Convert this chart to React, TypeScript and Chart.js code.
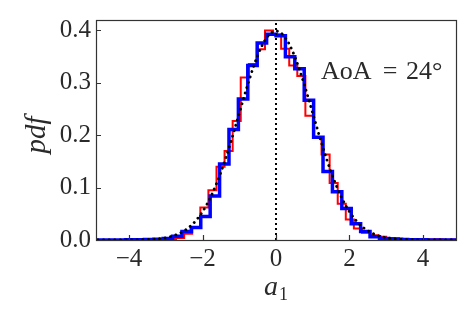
import { useEffect, useRef } from "react";
import { Chart, registerables } from "chart.js";

Chart.register(...registerables);

// ---- data ----
const blueStart = -5.12;
const blueWidth = 0.256;
const blueHeights = [
  0, 0, 0, 0, 0.0003, 0.0005, 0.001, 0.0015, 0.003, 0.007,
  0.016, 0.024, 0.045, 0.084, 0.145, 0.211, 0.269, 0.333, 0.376, 0.393,
  0.39, 0.35, 0.327, 0.267, 0.196, 0.131, 0.092, 0.06, 0.031, 0.016,
  0.006, 0.003, 0.002, 0.001, 0.0005, 0.0003, 0, 0, 0, 0,
];

const redStart = -4.92;
const redWidth = 0.22;
const redHeights = [
  0, 0, 0, 0, 0.0005, 0.0005, 0.001, 0.001, 0.002, 0.002,
  0.004, 0.012, 0.024, 0.062, 0.095, 0.14, 0.17, 0.227, 0.31, 0.336,
  0.364, 0.4, 0.393, 0.365, 0.333, 0.313, 0.237, 0.195, 0.163, 0.109,
  0.069, 0.039, 0.022, 0.014, 0.009, 0.006, 0.004, 0.003, 0.002, 0.002,
  0.001, 0.001, 0.0015, 0.0005, 0.001,
];

const curveX = [
  -5, -4.75, -4.5, -4.25, -4, -3.75, -3.5, -3.25, -3, -2.75, -2.5, -2.25, -2, -1.75,
  -1.5, -1.25, -1, -0.75, -0.5, -0.25, 0, 0.25, 0.5, 0.75, 1, 1.25, 1.5, 1.75, 2,
  2.25, 2.5, 2.75, 3, 3.25, 3.5, 3.75, 4, 4.25, 4.5, 4.75, 5,
];
const curveY = [
  0, 0, 0, 0.0001, 0.0001, 0.0004, 0.0009, 0.002, 0.0044, 0.0091, 0.0175, 0.0317, 0.054, 0.0863,
  0.1295, 0.1826, 0.242, 0.3011, 0.3521, 0.3867, 0.3989, 0.3867, 0.3521, 0.3011, 0.242, 0.1826, 0.1295, 0.0863, 0.054,
  0.0317, 0.0175, 0.0091, 0.0044, 0.002, 0.0009, 0.0004, 0.0001, 0.0001, 0, 0, 0,
];

const meanLineX = 0;
const xTicks = [-4, -2, 0, 2, 4];
const yTicks = [0, 0.1, 0.2, 0.3, 0.4];
const xMin = -4.9;
const xMax = 4.9;
const yMin = 0;
const yMax = 0.42;
const xTitle = "a";
const xTitleSub = "1";
const yTitle = "pdf";
const noteLeft = "AoA";
const noteMid = "=";
const noteRight = "24°";

const FONT = "'Liberation Serif', 'Times New Roman', serif";
const TEXT = "#2a2a2a";

function stepPoints(start: number, width: number, heights: number[]) {
  const pts: { x: number; y: number }[] = [{ x: start, y: 0 }];
  heights.forEach((h, i) => pts.push({ x: start + i * width, y: h }));
  const end = start + heights.length * width;
  pts.push({ x: end, y: heights[heights.length - 1] });
  pts.push({ x: end, y: 0 });
  return pts;
}

const decor = {
  id: "decor",
  afterDatasetsDraw(chart: any) {
    const { ctx, chartArea: a, scales } = chart;
    ctx.save();
    ctx.strokeStyle = "#333";
    ctx.lineWidth = 1.2;
    ctx.strokeRect(Math.round(a.left) + 0.5, Math.round(a.top) + 0.5, Math.round(a.right - a.left), Math.round(a.bottom - a.top));
    ctx.beginPath();
    for (const v of xTicks) {
      const px = Math.round(scales.x.getPixelForValue(v)) + 0.5;
      ctx.moveTo(px, a.bottom);
      ctx.lineTo(px, a.bottom - 5);
    }
    for (const v of yTicks) {
      const py = Math.round(scales.y.getPixelForValue(v)) + 0.5;
      ctx.moveTo(a.left, py);
      ctx.lineTo(a.left + 5, py);
    }
    ctx.stroke();
    ctx.restore();
  },
  afterDraw(chart: any) {
    const { ctx, chartArea: a } = chart;
    ctx.save();
    ctx.fillStyle = TEXT;
    // x title
    const cx = (a.left + a.right) / 2;
    ctx.font = `italic 28px ${FONT}`;
    ctx.textBaseline = "alphabetic";
    ctx.textAlign = "left";
    const aw = ctx.measureText(xTitle).width;
    ctx.fillText(xTitle, cx - aw / 2 - 5, 295);
    ctx.font = `18px ${FONT}`;
    ctx.fillText(xTitleSub, cx - aw / 2 - 5 + aw + 1, 300);
    // y title
    ctx.save();
    ctx.translate(45, (a.top + a.bottom) / 2 + 5);
    ctx.rotate(-Math.PI / 2);
    ctx.font = `italic 29px ${FONT}`;
    ctx.textAlign = "center";
    ctx.fillText(yTitle, 0, 0);
    ctx.restore();
    // annotation
    ctx.font = `26px ${FONT}`;
    ctx.textAlign = "left";
    ctx.fillText(noteLeft, 321, 79);
    ctx.textAlign = "center";
    ctx.fillText(noteMid, 390, 79);
    ctx.textAlign = "left";
    ctx.fillText(noteRight, 406, 79);
    ctx.restore();
  },
};

export default function App() {
  const ref = useRef<HTMLCanvasElement | null>(null);
  useEffect(() => {
    if (!ref.current) return;
    const chart = new Chart(ref.current, {
      type: "line",
      data: {
        datasets: [
          {
            data: curveX.map((x, i) => ({ x, y: curveY[i] })),
            borderColor: "#000",
            borderWidth: 2.8,
            borderDash: [0.1, 5.5],
            borderCapStyle: "round",
            pointRadius: 0,
            cubicInterpolationMode: "monotone",
            fill: false,
            order: 0,
          },
          {
            data: [
              { x: meanLineX, y: yMin },
              { x: meanLineX, y: yMax },
            ],
            borderColor: "#000",
            borderWidth: 2,
            borderDash: [2, 3],
            pointRadius: 0,
            fill: false,
            order: 1,
          },
          {
            data: stepPoints(blueStart, blueWidth, blueHeights),
            borderColor: "#0000ff",
            borderWidth: 3.5,
            stepped: "before",
            borderJoinStyle: "miter",
            pointRadius: 0,
            fill: false,
            order: 2,
          },
          {
            data: stepPoints(redStart, redWidth, redHeights),
            borderColor: "#ff0000",
            borderWidth: 2,
            stepped: "before",
            borderJoinStyle: "miter",
            pointRadius: 0,
            fill: false,
            order: 3,
          },
        ],
      },
      options: {
        animation: false,
        responsive: false,
        devicePixelRatio: 1,
        layout: { padding: { top: 15, right: 15, left: 0, bottom: 0 } },
        plugins: { legend: { display: false }, tooltip: { enabled: false } },
        scales: {
          x: {
            type: "linear",
            min: xMin,
            max: xMax,
            grid: { display: false, drawTicks: false },
            border: { display: false },
            afterBuildTicks: (s: any) => {
              s.ticks = xTicks.map((v) => ({ value: v }));
            },
            afterFit: (s: any) => {
              s.height = 74;
            },
            ticks: {
              autoSkip: false,
              maxRotation: 0,
              padding: 4,
              color: TEXT,
              font: { family: FONT, size: 25 },
              callback: (v: any) => (Number(v) < 0 ? "\u2212" + Math.abs(Number(v)) : String(v)),
            },
          },
          y: {
            type: "linear",
            min: yMin,
            max: yMax,
            grid: { display: false, drawTicks: false },
            border: { display: false },
            afterBuildTicks: (s: any) => {
              s.ticks = yTicks.map((v) => ({ value: v }));
            },
            afterFit: (s: any) => {
              s.width = 96;
            },
            ticks: {
              padding: 5,
              color: TEXT,
              font: { family: FONT, size: 25 },
              callback: (v: any) => Number(v).toFixed(1),
            },
          },
        },
      },
      plugins: [decor],
    } as any);
    return () => chart.destroy();
  }, []);
  return (
    <div style={{ position: "fixed", left: 0, top: 0, width: 471, height: 314, background: "#fff" }}>
      <canvas ref={ref} width={471} height={314} />
    </div>
  );
}
